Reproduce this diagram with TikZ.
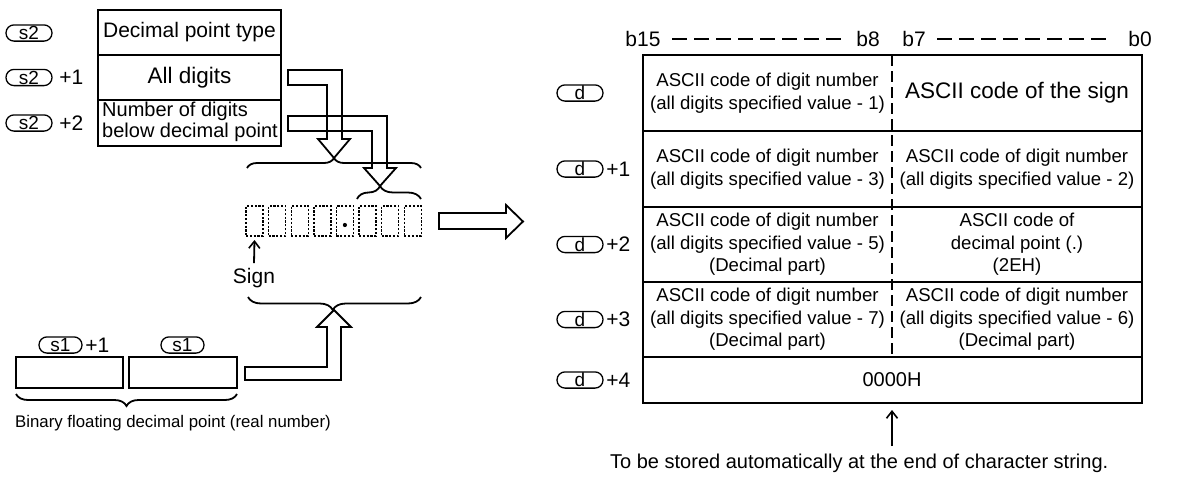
\documentclass[tikz,border=0pt]{standalone}
\usepackage{fontspec}
\setmainfont{Liberation Sans}
\usetikzlibrary{decorations.pathreplacing,arrows.meta,calc}
\newcommand\FontBig{\fontsize{21}{24}\selectfont}
\newcommand\FontMid{\fontsize{18.6}{22.5}\selectfont}
\begin{document}
\begin{tikzpicture}[x=1pt,y=-1pt,
  frame/.style={draw,line width=2.2pt},
  oval/.style={draw,line width=1.3pt,rounded corners=8pt,minimum width=46pt,inner xsep=0pt,inner ysep=1.3pt,text height=13.6pt,text depth=0pt,font=\fontsize{19}{19}\selectfont},
  plus/.style={anchor=west,inner sep=1.5pt,font=\FontBig},
  mid/.style={align=center,inner sep=0pt,font=\FontMid},
  hollow/.style={draw,line width=1.8pt,line join=miter},
  cell/.style={draw,line width=1.4pt,dash pattern=on 2.2pt off 1.6pt,minimum width=17pt,minimum height=30pt,inner sep=0pt},
  brc/.style={draw,line width=1.8pt,decorate,decoration={brace,amplitude=#1}},
  barb/.style={-{Straight Barb[length=7pt,width=11pt,line width=1.6pt]},line width=1.8pt}
]
\useasboundingbox (0,0) rectangle (1183,477);

% ---------- left table (s2) ----------
\draw[frame,line width=2pt] (98,10) rectangle (281,146);
\draw[line width=2pt] (98,55) -- (281,55) (98,100) -- (281,100);
\node[font=\fontsize{21}{24}\selectfont] (dpt) at (189.5,32.5) {Decimal point type};
\node[font=\fontsize{22.5}{26}\selectfont] (ad) at (189.5,77.5) {All digits};
\node[align=left,anchor=west,inner sep=0pt,font=\fontsize{20}{21}\selectfont] (nd) at (102,122) {Number of digits\\below decimal point};

\node[oval] (s2a) at (29,33) {s2};
\node[oval] (s2b) at (29,77.5) {s2};
\node[plus] at ($(s2b.east)+(5,0)$) {+1};
\node[oval] (s2c) at (29,123) {s2};
\node[plus] at ($(s2c.east)+(5,0)$) {+2};

% hollow arrows from s2+1 and s2+2
\draw[hollow] (288,70) -- (342,70) -- (342,139) -- (350,139) -- (334,158) -- (318,139) -- (327,139) -- (327,85) -- (288,85) -- cycle;
\draw[hollow] (288,116) -- (387,116) -- (387,168) -- (396,168) -- (380,186) -- (364,168) -- (372,168) -- (372,131) -- (288,131) -- cycle;

% braces above cells
\draw[brc=10pt,decoration={aspect=0.5}] (247,168) -- (421,168);
\draw[brc=13pt,decoration={aspect=0.36}] (357,199) -- (421,199);

% cells
\foreach \i in {0,...,7}{
  \node[cell] (c\i) at ({254.5+22.6*\i},221) {};
}
\fill (c4.center) ++(0,4) circle (2.1pt);

% sign
\node[font=\FontBig,inner sep=0pt] (sign) at (254,278) {Sign};
\draw[barb] ($(sign.north)+(0,-5)$) -- (c0.south |- 0,240);

% brace below sign (tip down)
\draw[brc=13pt,decoration={aspect=0.51}] (421,297) -- (248,297);

% s1 boxes
\node[frame,minimum width=107pt,minimum height=31pt,inner sep=0pt] (b1) at (69.5,372.5) {};
\node[frame,minimum width=108pt,minimum height=31pt,inner sep=0pt] (b0) at (183,372.5) {};
\node[oval,minimum width=43pt] (s1a) at (60.5,345) {s1};
\node[plus] at ($(s1a.east)+(1,0)$) {+1};
\node[oval,minimum width=43pt] (s1b) at (182.5,345) {s1};

% hollow arrow s1 -> sign brace
\draw[hollow] (245,367) -- (327,367) -- (327,327) -- (317,327) -- (334,310) -- (351,327) -- (341,327) -- (341,380) -- (245,380) -- cycle;

% brace below s1 boxes
\draw[brc=12pt,decoration={aspect=0.5}] (237,394) -- (16,394);
\node[anchor=west,inner sep=0pt,font=\fontsize{16.8}{20}\selectfont] (bin) at (15,423) {Binary floating decimal point (real number)};

% big arrow to the right
\draw[hollow] (439,213) -- (506,213) -- (506,205) -- (523,221.5) -- (506,238) -- (506,229) -- (439,229) -- cycle;

% ---------- right table (d) ----------
\node[font=\FontBig] (b15) at (643,39) {b15};
\node[font=\FontBig] (b8) at (868,39) {b8};
\node[font=\FontBig] (b7) at (914,39) {b7};
\node[font=\FontBig] (b0l) at (1140,39) {b0};
\draw[line width=1.8pt,dash pattern=on 15pt off 7pt] (b15.east) ++(8,0) -- ($(b8.west)+(-8,0)$);
\draw[line width=1.8pt,dash pattern=on 15pt off 7pt] (b7.east) ++(8,0) -- ($(b0l.west)+(-12,0)$);

\draw[frame] (643,55) rectangle (1142,403);
\draw[line width=2.2pt] (643,131) -- (1142,131) (643,207) -- (1142,207) (643,282) -- (1142,282) (643,357) -- (1142,357);
\draw[line width=1.8pt,dash pattern=on 11pt off 5pt] (892,55) -- (892,357);

\node[mid] (r1l) at (767.5,93) {ASCII code of digit number\\(all digits specified value - 1)};
\node[inner sep=0pt,font=\fontsize{22.5}{26}\selectfont] (r1r) at (1017,93) {ASCII code of the sign};
\node[mid] (r2l) at (767.5,169) {ASCII code of digit number\\(all digits specified value - 3)};
\node[mid] (r2r) at (1017,169) {ASCII code of digit number\\(all digits specified value - 2)};
\node[mid] (r3l) at (767.5,244.5) {ASCII code of digit number\\(all digits specified value - 5)\\(Decimal part)};
\node[mid] (r3r) at (1017,244.5) {ASCII code of\\decimal point (.)\\(2EH)};
\node[mid] (r4l) at (767.5,319.5) {ASCII code of digit number\\(all digits specified value - 7)\\(Decimal part)};
\node[mid] (r4r) at (1017,319.5) {ASCII code of digit number\\(all digits specified value - 6)\\(Decimal part)};
\node[inner sep=0pt,font=\fontsize{20}{24}\selectfont] (r5) at (892,380) {0000H};

\node[oval] (d0) at (580,93) {d};
\node[oval] (d1) at (580,169) {d};
\node[plus] at ($(d1.east)+(1,0)$) {+1};
\node[oval] (d2) at (580,244.5) {d};
\node[plus] at ($(d2.east)+(1,0)$) {+2};
\node[oval] (d3) at (580,319.5) {d};
\node[plus] at ($(d3.east)+(1,0)$) {+3};
\node[oval] (d4) at (580,380) {d};
\node[plus] at ($(d4.east)+(1,0)$) {+4};

\node[anchor=west,inner sep=0pt,font=\fontsize{20}{24}\selectfont] (tbs) at (610,463) {To be stored automatically at the end of character string.};
\coordinate (up) at (892,410);
\draw[barb] (892,446) -- (up);
\end{tikzpicture}
\end{document}
